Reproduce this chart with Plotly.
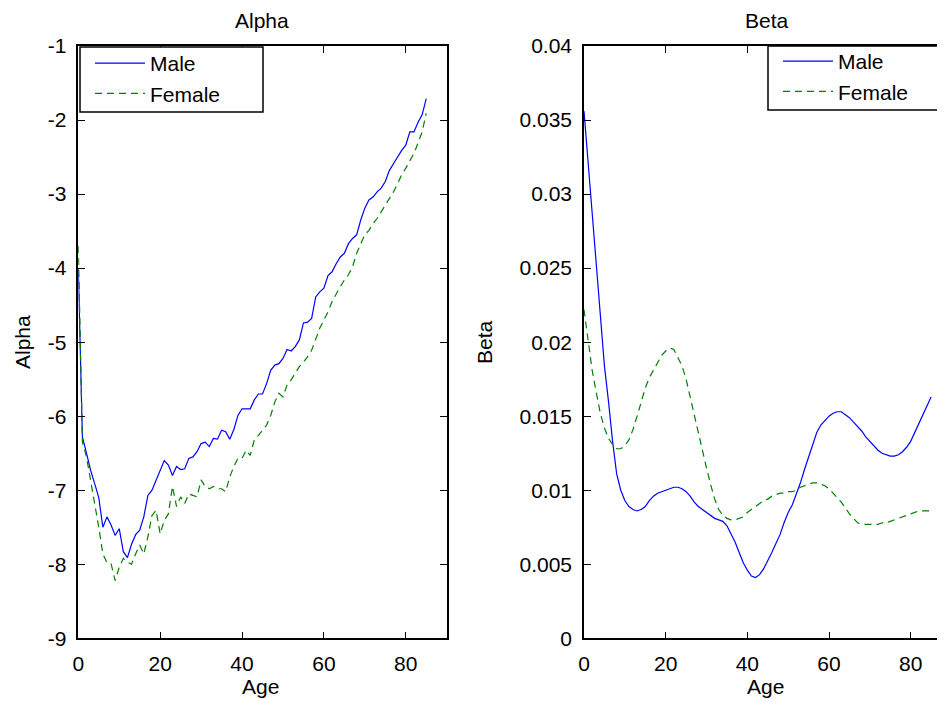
import plotly.graph_objects as go

ages = list(range(0, 86))

alpha_male = [
    -4.00, -6.28, -6.50, -6.73, -6.91, -7.10, -7.50, -7.36, -7.47, -7.61,
    -7.52, -7.83, -7.91, -7.73, -7.60, -7.54, -7.36, -7.07, -7.00, -6.86,
    -6.73, -6.60, -6.66, -6.80, -6.68, -6.72, -6.71, -6.57, -6.55, -6.48,
    -6.37, -6.35, -6.41, -6.30, -6.31, -6.19, -6.21, -6.31, -6.18, -5.99,
    -5.90, -5.90, -5.90, -5.78, -5.70, -5.70, -5.56, -5.38, -5.31, -5.29,
    -5.22, -5.10, -5.12, -5.06, -4.97, -4.74, -4.73, -4.68, -4.39, -4.32,
    -4.27, -4.10, -4.05, -3.94, -3.85, -3.80, -3.67, -3.60, -3.55, -3.35,
    -3.19, -3.08, -3.04, -2.97, -2.92, -2.83, -2.68, -2.59, -2.50, -2.41,
    -2.34, -2.16, -2.16, -2.03, -1.93, -1.71,
]

alpha_female = [
    -3.70, -6.35, -6.55, -6.86, -7.18, -7.50, -7.86, -7.98, -7.99, -8.22,
    -8.04, -7.92, -7.97, -8.00, -7.86, -7.74, -7.86, -7.63, -7.34, -7.27,
    -7.59, -7.41, -7.32, -6.95, -7.22, -7.09, -7.18, -7.05, -7.07, -7.09,
    -6.86, -6.95, -6.98, -6.95, -6.98, -6.98, -7.02, -6.82, -6.68, -6.57,
    -6.57, -6.46, -6.53, -6.32, -6.26, -6.19, -6.12, -5.99, -5.81, -5.69,
    -5.74, -5.58, -5.51, -5.42, -5.33, -5.27, -5.20, -5.11, -4.97, -4.81,
    -4.70, -4.59, -4.45, -4.34, -4.25, -4.16, -4.09, -3.98, -3.80, -3.67,
    -3.55, -3.49, -3.40, -3.33, -3.24, -3.15, -3.07, -2.97, -2.86, -2.74,
    -2.65, -2.54, -2.45, -2.31, -2.16, -1.91,
]

beta_male = [
    0.0356, 0.0322, 0.0288, 0.0254, 0.0220, 0.0184, 0.0160, 0.0133, 0.0111, 0.0100,
    0.0093, 0.0089, 0.0087, 0.0086, 0.0087, 0.0089, 0.0093, 0.0096, 0.0098, 0.0099,
    0.0100, 0.0101, 0.0102, 0.0102, 0.0101, 0.0099, 0.0096, 0.0092, 0.0089, 0.0087,
    0.0085, 0.0083, 0.0081, 0.0080, 0.0079, 0.0076, 0.0071, 0.0065, 0.0058, 0.0051,
    0.0046, 0.0042, 0.0041, 0.0043, 0.0047, 0.0052, 0.0058, 0.0064, 0.0070, 0.0078,
    0.0085, 0.0090, 0.0097, 0.0105, 0.0114, 0.0122, 0.0131, 0.0139, 0.0144, 0.0147,
    0.0150, 0.0152, 0.0153, 0.0153, 0.0151, 0.0149, 0.0146, 0.0143, 0.0140, 0.0136,
    0.0133, 0.0130, 0.0127, 0.0125, 0.0124, 0.0123, 0.0123, 0.0124, 0.0126, 0.0129,
    0.0133, 0.0139, 0.0145, 0.0151, 0.0157, 0.0163,
]

beta_female = [
    0.0222, 0.0200, 0.0181, 0.0166, 0.0152, 0.0142, 0.0135, 0.0131, 0.0128, 0.0128,
    0.0130, 0.0134, 0.0141, 0.0150, 0.0160, 0.0169, 0.0176, 0.0181, 0.0187, 0.0191,
    0.0194, 0.0196, 0.0195, 0.0190, 0.0184, 0.0175, 0.0163, 0.0150, 0.0137, 0.0126,
    0.0115, 0.0104, 0.0094, 0.0087, 0.0083, 0.0081, 0.0080, 0.0080, 0.0081, 0.0082,
    0.0085, 0.0087, 0.0089, 0.0091, 0.0093, 0.0094, 0.0096, 0.0097, 0.0098, 0.0098,
    0.0099, 0.0099, 0.0100, 0.0102, 0.0103, 0.0104, 0.0105, 0.0105, 0.0104, 0.0103,
    0.0101, 0.0098, 0.0095, 0.0092, 0.0088, 0.0084, 0.0081, 0.0078, 0.0077, 0.0077,
    0.0077, 0.0077, 0.0077, 0.0078, 0.0078, 0.0079, 0.0080, 0.0081, 0.0082, 0.0083,
    0.0084, 0.0085, 0.0086, 0.0086, 0.0086, 0.0086,
]

x_ticks = [0, 20, 40, 60, 80]
alpha_ticks = [-1, -2, -3, -4, -5, -6, -7, -8, -9]
alpha_ticktext = ["-1", "-2", "-3", "-4", "-5", "-6", "-7", "-8", "-9"]
beta_ticks = [0, 0.005, 0.01, 0.015, 0.02, 0.025, 0.03, 0.035, 0.04]
beta_ticktext = ["0", "0.005", "0.01", "0.015", "0.02", "0.025", "0.03", "0.035", "0.04"]

BLUE = "#0000ff"
GREEN = "#008000"
FONT = "Liberation Sans, Arial, sans-serif"
FS = 21
W, H = 945, 702
OFF = 8  # default page body margin

fig = go.Figure()
fig.add_trace(go.Scatter(x=ages, y=alpha_male, name="Male", mode="lines",
                         line=dict(color=BLUE, width=1.2), xaxis="x", yaxis="y", legend="legend"))
fig.add_trace(go.Scatter(x=ages, y=alpha_female, name="Female", mode="lines",
                         line=dict(color=GREEN, width=1.2, dash="7px,5px"), xaxis="x", yaxis="y", legend="legend"))
fig.add_trace(go.Scatter(x=ages, y=beta_male, name="Male", mode="lines",
                         line=dict(color=BLUE, width=1.2), xaxis="x2", yaxis="y2", legend="legend2"))
fig.add_trace(go.Scatter(x=ages, y=beta_female, name="Female", mode="lines",
                         line=dict(color=GREEN, width=1.2, dash="7px,5px"), xaxis="x2", yaxis="y2", legend="legend2"))

def px_x(p):
    return (p - OFF) / W

def px_y(p):
    return 1 - (p - OFF) / H

ydom = [px_y(638.3), px_y(46)]
axcommon = dict(showline=True, linecolor="black", linewidth=1.5, ticks="inside", ticklen=7,
                tickcolor="black", tickwidth=1, showgrid=False, zeroline=False, automargin=False,
                tickfont=dict(family=FONT, size=FS, color="black"), ticklabelstandoff=6)

legcommon = dict(xanchor="left", yanchor="top", bgcolor="rgba(0,0,0,0)", borderwidth=0,
                 font=dict(family=FONT, size=FS, color="black"), itemwidth=50, tracegroupgap=0)

fig.update_layout(
    width=W, height=H,
    margin=dict(l=0, r=0, t=0, b=0, autoexpand=False),
    paper_bgcolor="white", plot_bgcolor="white",
    font=dict(family=FONT, size=FS, color="black"),
    xaxis=dict(domain=[px_x(78.3), px_x(446.7)], range=[0, 90], tickvals=x_ticks,
               anchor="y", mirror="ticks", **axcommon),
    yaxis=dict(domain=ydom, range=[-9, -1], tickvals=alpha_ticks, ticktext=alpha_ticktext,
               anchor="x", mirror="ticks", **axcommon),
    xaxis2=dict(domain=[px_x(584), px_x(951.5)], range=[0, 90], tickvals=x_ticks,
                anchor="y2", mirror="ticks", **axcommon),
    yaxis2=dict(domain=ydom, range=[0, 0.04], tickvals=beta_ticks, ticktext=beta_ticktext,
                anchor="x2", mirror="ticks", **axcommon),
    legend=dict(x=px_x(90), y=px_y(43), **legcommon),
    legend2=dict(x=px_x(778), y=px_y(41), **legcommon),
    showlegend=True,
)

# legend frames
fig.add_shape(type="rect", xref="paper", yref="paper", x0=px_x(80), x1=px_x(263),
              y0=px_y(112), y1=px_y(47), fillcolor="white", line=dict(color="black", width=1.5),
              layer="above")
fig.add_shape(type="rect", xref="paper", yref="paper", x0=px_x(768), x1=px_x(970),
              y0=px_y(110), y1=px_y(46), fillcolor="white", line=dict(color="black", width=1.5),
              layer="above")

ann = dict(showarrow=False, xref="paper", yref="paper", font=dict(family=FONT, size=FS, color="black"))
fig.add_annotation(text="Alpha", x=px_x(262), y=px_y(20), xanchor="center", yanchor="middle", **ann)
fig.add_annotation(text="Beta", x=px_x(767), y=px_y(20), xanchor="center", yanchor="middle", **ann)
fig.add_annotation(text="Age", x=px_x(260), y=px_y(686), xanchor="center", yanchor="middle", **ann)
fig.add_annotation(text="Age", x=px_x(765), y=px_y(686), xanchor="center", yanchor="middle", **ann)
fig.add_annotation(text="Alpha", x=px_x(22), y=px_y(342), xanchor="center", yanchor="middle", textangle=-90, **ann)
fig.add_annotation(text="Beta", x=px_x(484), y=px_y(342), xanchor="center", yanchor="middle", textangle=-90, **ann)

fig.write_html("out.html")
